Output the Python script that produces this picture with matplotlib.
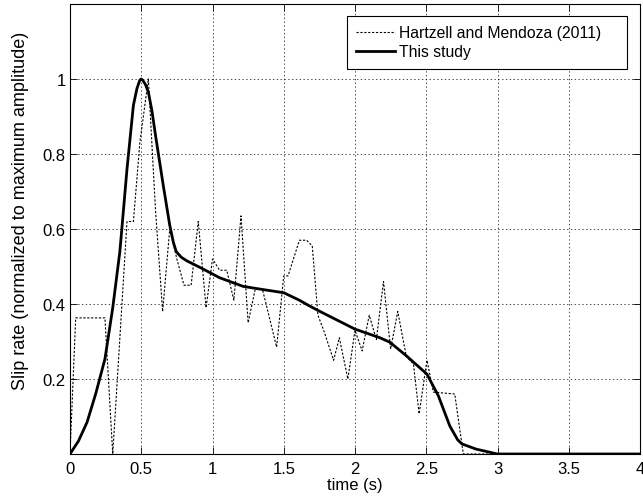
import matplotlib
matplotlib.use("Agg")
import matplotlib.pyplot as plt
from matplotlib.ticker import FuncFormatter
from matplotlib.patches import Rectangle

plt.rcParams['font.family'] = ['Liberation Sans', 'DejaVu Sans']

# Hartzell and Mendoza (2011)
hm_t = [0, 0.04, 0.245, 0.30, 0.40, 0.445, 0.49, 0.55, 0.60, 0.65, 0.70, 0.75,
        0.80, 0.85, 0.90, 0.955, 1.0, 1.05, 1.10, 1.15, 1.20, 1.25, 1.30, 1.35,
        1.45, 1.50, 1.53, 1.61, 1.66, 1.70, 1.74, 1.78, 1.85, 1.89, 1.95, 2.0,
        2.05, 2.10, 2.15, 2.20, 2.25, 2.30, 2.36, 2.41, 2.45, 2.505, 2.55, 2.70,
        2.76, 4.0]
hm_v = [0, 0.363, 0.363, 0, 0.62, 0.62, 0.83, 1.0, 0.65, 0.38, 0.60, 0.52,
        0.45, 0.45, 0.62, 0.39, 0.52, 0.49, 0.49, 0.41, 0.635, 0.35, 0.44, 0.44,
        0.285, 0.475, 0.475, 0.57, 0.57, 0.555, 0.37, 0.33, 0.25, 0.31, 0.20, 0.33,
        0.275, 0.37, 0.305, 0.46, 0.28, 0.38, 0.26, 0.24, 0.107, 0.25, 0.165, 0.16,
        0.0, 0.0]

# This study
st_t = [0, 0.06, 0.12, 0.18, 0.245, 0.30, 0.35, 0.40, 0.445, 0.47, 0.49, 0.50,
        0.51, 0.53, 0.55, 0.575, 0.60, 0.655, 0.70, 0.725, 0.745, 0.78, 0.82,
        0.91, 1.05, 1.215, 1.33, 1.50, 1.61, 1.68, 1.755, 2.0, 2.175, 2.245, 2.36,
        2.505, 2.585, 2.665, 2.72, 2.75, 2.85, 3.0, 4.0]
st_v = [0, 0.035, 0.085, 0.16, 0.253, 0.39, 0.54, 0.76, 0.93, 0.975, 0.997, 1.0,
        0.997, 0.985, 0.965, 0.915, 0.85, 0.715, 0.61, 0.565, 0.54, 0.525, 0.515,
        0.498, 0.47, 0.447, 0.44, 0.43, 0.41, 0.395, 0.38, 0.333, 0.31, 0.298, 0.262,
        0.213, 0.155, 0.075, 0.038, 0.027, 0.013, 0.0, 0.0]

x_ticks = [0, 0.5, 1, 1.5, 2, 2.5, 3, 3.5, 4]
y_ticks = [0.2, 0.4, 0.6, 0.8, 1.0]

fig = plt.figure(figsize=(6.43, 5.02), dpi=100)
ax = fig.add_axes([70/643, 47/502, 570/643, 450/502])

ax.plot(hm_t, hm_v, color='black', lw=0.8, linestyle=(0, (2, 1.5)),
        label='Hartzell and Mendoza (2011)')
ax.plot(st_t, st_v, color='black', lw=2.0, label='This study')

ax.set_xlim(0, 4)
ax.set_ylim(0, 1.2)
ax.set_xticks(x_ticks)
ax.set_yticks(y_ticks)
fmt = FuncFormatter(lambda v, p: ('%g' % v))
ax.xaxis.set_major_formatter(fmt)
ax.yaxis.set_major_formatter(fmt)
ax.tick_params(direction='in', top=True, right=True, length=5, width=0.6,
               labelsize=12, colors='black')
ax.tick_params(axis='x', pad=5)
ax.tick_params(axis='y', pad=3)
ax.grid(True, color='black', linestyle=(0, (2, 3.5)), lw=0.5)
for s in ax.spines.values():
    s.set_linewidth(0.8)

ax.set_xlabel('time (s)', fontsize=12, labelpad=1)
ax.set_ylabel('Slip rate (normalized to maximum amplitude)', fontsize=13)
ax.yaxis.set_label_coords(-0.072, 0.542)

# legend box (MATLAB-style, wide right padding)
box = Rectangle((0.486, 0.856), 0.491, 0.117, transform=ax.transAxes,
                facecolor='white', edgecolor='black', lw=0.8, zorder=5)
ax.add_patch(box)
leg = ax.legend(loc='upper left', bbox_to_anchor=(0.502, 0.953), fontsize=11.3,
                frameon=False, borderaxespad=0, borderpad=0, handlelength=2.5,
                handletextpad=0.2, labelspacing=0.25)
leg.set_zorder(6)

fig.savefig('out.png', dpi=100)
